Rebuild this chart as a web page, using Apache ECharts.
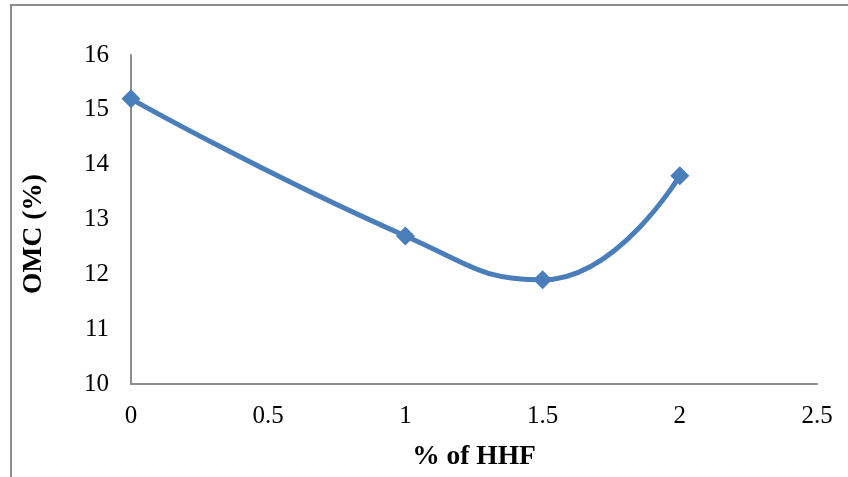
<!DOCTYPE html>
<html><head><meta charset="utf-8">
<script src="https://cdn.jsdelivr.net/npm/echarts@6/dist/echarts.min.js"></script>
<style>
html,body{margin:0;padding:0;background:#fff;}
#frame{position:absolute;left:10px;top:4px;width:860px;height:500px;border-left:2px solid #8c8c8c;border-top:2px solid #8c8c8c;}
#c{position:absolute;left:0;top:0;width:848px;height:477px;}
</style></head>
<body>
<div id="frame"></div>
<div id="c"></div>
<script>
const hhf = [0, 1, 1.5, 2];
const omc = [15.2, 12.7, 11.9, 13.8];
const xTitle = '% of HHF';
const yTitle = 'OMC (%)';

const chart = echarts.init(document.getElementById('c'), null, {renderer:'canvas'});
const font = 'Liberation Serif';
chart.setOption({
  backgroundColor: 'transparent',
  animation: false,
  textStyle: {fontFamily: font},
  grid: {left: 131, right: 31, top: 55, bottom: 93},
  graphic: [{
    type: 'text', left: 20, top: 174,
    style: {text: yTitle, fontFamily: font, fontWeight: 'bold', fontSize: 27.5, fill: '#000'},
    rotation: Math.PI / 2,
    originX: 0, originY: 0
  }],
  xAxis: {
    type: 'value', min: 0, max: 2.5, interval: 0.5,
    name: xTitle, nameLocation: 'middle', nameGap: 59,
    nameTextStyle: {fontFamily: font, fontWeight: 'bold', fontSize: 27.5, color: '#000'},
    axisLine: {lineStyle: {color: '#8c8c8c', width: 2}},
    axisTick: {show: false},
    splitLine: {show: false},
    axisLabel: {fontFamily: font, fontSize: 25, color: '#000', margin: 20}
  },
  yAxis: {
    type: 'value', min: 10, max: 16, interval: 1,
    axisLine: {show: true, lineStyle: {color: '#8c8c8c', width: 2}},
    axisTick: {show: false},
    splitLine: {show: false},
    axisLabel: {fontFamily: font, fontSize: 25, color: '#000', margin: 22}
  },
  series: [{
    type: 'line',
    data: hhf.map((x, i) => [x, omc[i]]),
    smooth: 0.5,
    symbol: 'diamond', symbolSize: 19,
    lineStyle: {color: '#4a7ebb', width: 5},
    itemStyle: {color: '#4a7ebb'}
  }]
});
</script>
</body></html>
